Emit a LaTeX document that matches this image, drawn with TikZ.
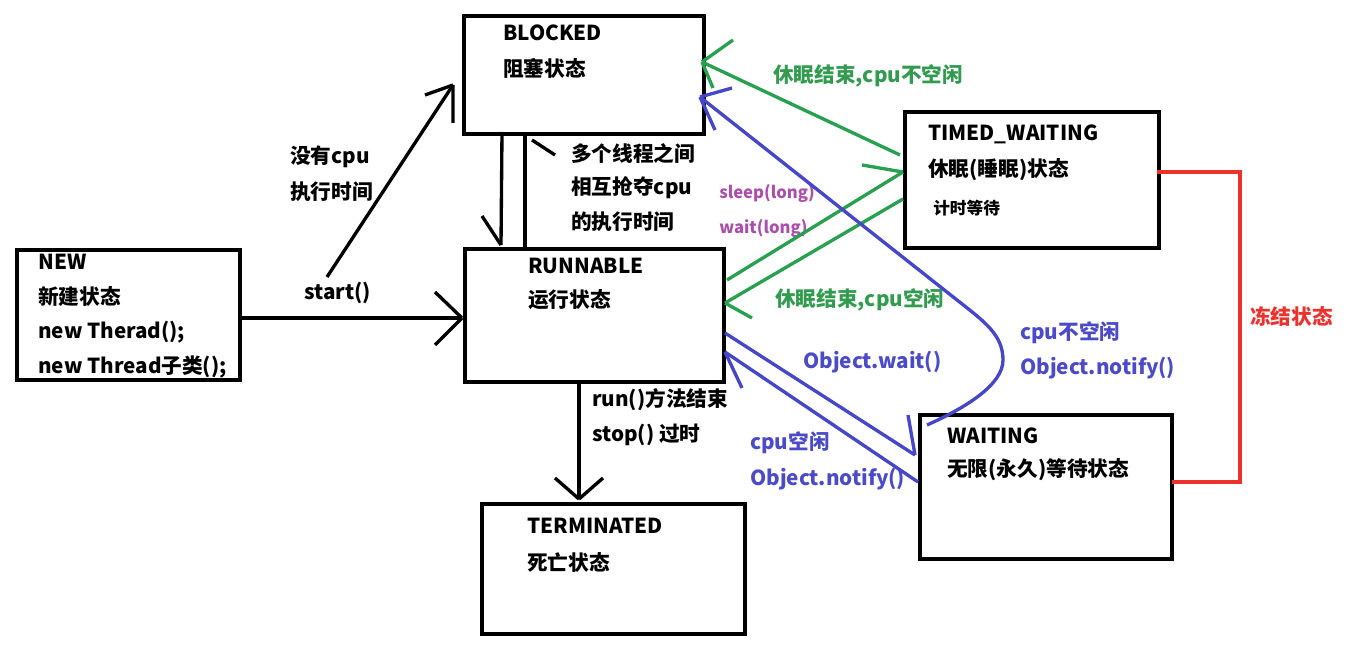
\documentclass[tikz,border=0pt]{standalone}
\usepackage{fontspec}
\setmainfont{Noto Sans CJK SC}
\usetikzlibrary{calc}
\definecolor{gline}{RGB}{40,160,80}
\definecolor{gtext}{RGB}{50,155,80}
\definecolor{bline}{RGB}{70,70,200}
\definecolor{btext}{RGB}{75,75,200}
\definecolor{ptext}{RGB}{170,80,170}
\definecolor{rline}{RGB}{235,50,45}
\begin{document}
\begin{tikzpicture}[x=0.75pt,y=-0.75pt,
  box/.style={draw=black,line width=2.8pt,anchor=north west,inner sep=0pt,fill=white},
  lbl/.style={anchor=west,inner sep=0pt,font=\fontsize{15.5}{18}\selectfont\bfseries},
  small/.style={anchor=west,inner sep=0pt,font=\fontsize{12.5}{15}\selectfont\bfseries},
  bk/.style={draw=black,line width=2.5pt},
  gr/.style={draw=gline,line width=2.5pt},
  bl/.style={draw=bline,line width=2.5pt},
  rd/.style={draw=rline,line width=2.6pt}]
\useasboundingbox (0,0) rectangle (1345,645);
% boxes
\node[box,minimum width=223*0.75pt,minimum height=130*0.75pt] (new) at (15,248) {};
\node[box,minimum width=240*0.75pt,minimum height=118*0.75pt] (blocked) at (462,14) {};
\node[box,minimum width=259*0.75pt,minimum height=133*0.75pt] (runnable) at (463,247) {};
\node[box,minimum width=254*0.75pt,minimum height=136*0.75pt] (timed) at (903,110) {};
\node[box,minimum width=252*0.75pt,minimum height=144*0.75pt] (waiting) at (918,413) {};
\node[box,minimum width=263*0.75pt,minimum height=130*0.75pt] (term) at (480,502) {};
% box texts
\node[lbl] (t1) at (38,262) {NEW};
\node[lbl] (t2) at (38,297) {新建状态};
\node[lbl] (t3) at (38,332) {new Therad();};
\node[lbl] (t4) at (38,367) {new Thread子类();};
\node[lbl] (t5) at (503,33) {BLOCKED};
\node[lbl] (t6) at (503,68) {阻塞状态};
\node[lbl] (t7) at (528,266) {RUNNABLE};
\node[lbl] (t8) at (528,300) {运行状态};
\node[lbl] (t9) at (928,134) {TIMED\_WAITING};
\node[lbl] (t10) at (928,170) {休眠(睡眠)状态};
\node[small] (t11) at (933,208) {计时等待};
\node[lbl] (t12) at (947,436) {WAITING};
\node[lbl] (t13) at (947,470) {无限(永久)等待状态};
\node[lbl] (t14) at (527,526) {TERMINATED};
\node[lbl] (t15) at (527,562) {死亡状态};
% edge labels
\node[lbl] (l1) at (290,157) {没有cpu};
\node[lbl] (l2) at (290,192) {执行时间};
\node[lbl] (l3) at (304,293) {start()};
\node[lbl] (l4) at (571,154) {多个线程之间};
\node[lbl] (l5) at (571,188) {相互抢夺cpu};
\node[lbl] (l6) at (571,222) {的执行时间};
\node[lbl,text=gtext] (l7) at (773,76) {休眠结束,cpu不空闲};
\node[small,text=ptext] (l8) at (719,193) {sleep(long)};
\node[small,text=ptext] (l9) at (719,228) {wait(long)};
\node[lbl,text=gtext] (l10) at (775,300) {休眠结束,cpu空闲};
\node[lbl,text=btext] (l11) at (803,362) {Object.wait()};
\node[lbl,text=btext] (l12) at (1020,333) {cpu不空闲};
\node[lbl,text=btext] (l13) at (1020,368) {Object.notify()};
\node[lbl,text=btext] (l14) at (750,443) {cpu空闲};
\node[lbl,text=btext] (l15) at (750,479) {Object.notify()};
\node[lbl] (l16) at (592,400) {run()方法结束};
\node[lbl] (l17) at (592,435) {stop() 过时};
\node[lbl,text=rline] (l18) at (1250,317) {冻结状态};
% NEW -> RUNNABLE
\coordinate (a1) at ($(runnable.north west)+(-1,71)$);
\draw[bk] ($(new.north west)+(223,70)$) -- (a1);
\draw[bk] (a1) -- ++(-27,-26) (a1) -- ++(-27,27);
% start -> BLOCKED
\coordinate (s0) at (327,277);
\coordinate (a2) at ($(blocked.north west)+(-9,71)$);
\draw[bk] (s0) -- (a2);
\draw[bk] (a2) -- ++(-28,10) (a2) -- ++(0,38);
% BLOCKED <-> RUNNABLE
\coordinate (a3) at ($(runnable.north west)+(38,-2)$);
\draw[bk] ($(blocked.north west)+(40,118)$) -- (a3);
\draw[bk] (a3) -- ++(-19,-29);
\draw[bk] ($(runnable.north west)+(62,0)$) -- ($(blocked.north west)+(63,118)$);
\draw[bk] ($(blocked.north west)+(70,126)$) -- ++(23,15);
% RUNNABLE -> TERMINATED
\coordinate (a4) at ($(term.north west)+(99,-3)$);
\draw[bk] ($(runnable.north west)+(116,133)$) -- (a4);
\draw[bk] (a4) -- ++(-24,-21) (a4) -- ++(24,-21);
% green
\coordinate (g1) at ($(blocked.north west)+(240,48)$);
\draw[gr] ($(timed.north west)+(-3,45)$) -- (g1);
\draw[gr] (g1) -- ++(31,-22) (g1) -- ++(11,26);
\coordinate (g2) at ($(timed.north west)+(0,62)$);
\draw[gr] ($(runnable.north west)+(264,33)$) -- (g2);
\draw[gr] (g2) -- ++(-41,-7);
\coordinate (g3) at ($(runnable.north west)+(262,56)$);
\draw[gr] ($(timed.north west)+(0,89)$) -- (g3);
\draw[gr] (g3) -- ++(27,15);
% blue
\coordinate (b1) at ($(blocked.north west)+(238,83)$);
\draw[bl] ($(waiting.north west)+(9,12)$) .. controls (965,408) and (1003,385) .. (1003,360)
   .. controls (1003,335) and (985,322) .. (957,300) -- (b1);
\draw[bl] (b1) -- ++(32,-9) (b1) -- ++(15,33);
\coordinate (b2) at ($(waiting.north west)+(-3,42)$);
\draw[bl] ($(runnable.north west)+(262,86)$) -- (b2);
\draw[bl] (b2) -- ++(-7,-40);
\coordinate (b3) at ($(runnable.north west)+(262,105)$);
\draw[bl] ($(waiting.north west)+(0,69)$) -- (b3);
\draw[bl] (b3) -- ++(17,36);
% red bracket
\draw[rd] ($(timed.north west)+(254,62)$) -- (1240,172) -- (1240,482) -- ($(waiting.north west)+(254,69)$);
\end{tikzpicture}
\end{document}
